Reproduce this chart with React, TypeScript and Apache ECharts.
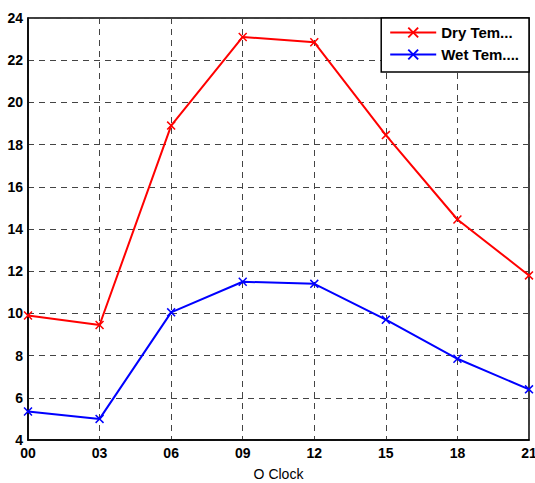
import React, { useEffect, useRef } from "react";
import * as echarts from "echarts";

const hours = ["00", "03", "06", "09", "12", "15", "18", "21"];
const dryTemp = [9.9, 9.45, 18.9, 23.1, 22.85, 18.45, 14.45, 11.8];
const wetTemp = [5.35, 5.0, 10.05, 11.5, 11.4, 9.7, 7.85, 6.4];
const seriesNames = ["Dry Tem...", "Wet Tem...."];
const xAxisName = "O Clock";

const crossSymbol =
  "path://M0,1.2L1.2,0L5,3.8L8.8,0L10,1.2L6.2,5L10,8.8L8.8,10L5,6.2L1.2,10L0,8.8L3.8,5Z";

export default function App() {
  const ref = useRef<HTMLDivElement>(null);
  useEffect(() => {
    if (!ref.current) return;
    const chart = echarts.init(ref.current, undefined, { renderer: "svg" });
    const font = "'Liberation Sans', Arial, Helvetica, sans-serif";
    chart.setOption({
      animation: false,
      backgroundColor: "#ffffff",
      textStyle: { fontFamily: font },
      grid: {
        left: 28,
        right: 6,
        top: 18,
        bottom: 43,
        show: true,
        borderColor: "#000",
        borderWidth: 1.5,
        backgroundColor: "transparent",
        containLabel: false,
        outerBoundsMode: "none",
      },
      legend: {
        right: 6,
        top: 18,
        orient: "vertical",
        backgroundColor: "#fff",
        borderColor: "#000",
        borderWidth: 1.5,
        borderRadius: 0,
        padding: [7, 10, 10, 8],
        itemGap: 7,
        itemWidth: 46,
        itemHeight: 14,
        textStyle: {
          fontFamily: font,
          fontWeight: "bold",
          fontSize: 15,
          color: "#000",
        },
        data: seriesNames,
      },
      xAxis: {
        type: "category",
        data: hours,
        boundaryGap: false,
        name: xAxisName,
        nameLocation: "middle",
        nameGap: 27,
        nameTextStyle: { fontFamily: font, fontSize: 14, color: "#000" },
        axisLine: { show: true, lineStyle: { color: "#000", width: 1.5 } },
        axisTick: { show: false },
        axisLabel: {
          color: "#000",
          fontWeight: "bold",
          fontSize: 14,
          fontFamily: font,
          margin: 6,
        },
        splitLine: {
          show: true,
          lineStyle: { color: "#444", type: [6, 5], width: 1 },
        },
      },
      yAxis: {
        type: "value",
        min: 4,
        max: 24,
        interval: 2,
        axisLine: { show: true, lineStyle: { color: "#000", width: 1.5 } },
        axisTick: { show: false },
        axisLabel: {
          color: "#000",
          fontWeight: "bold",
          fontSize: 14,
          fontFamily: font,
          margin: 5,
        },
        splitLine: {
          show: true,
          lineStyle: { color: "#444", type: [6, 5], width: 1 },
        },
      },
      series: [
        {
          name: seriesNames[0],
          type: "line",
          data: dryTemp,
          symbol: crossSymbol,
          symbolSize: 9,
          showAllSymbol: true,
          lineStyle: { color: "#ff0000", width: 2 },
          itemStyle: { color: "#ff0000" },
          z: 3,
        },
        {
          name: seriesNames[1],
          type: "line",
          data: wetTemp,
          symbol: crossSymbol,
          symbolSize: 9,
          showAllSymbol: true,
          lineStyle: { color: "#0000ff", width: 2 },
          itemStyle: { color: "#0000ff" },
          z: 3,
        },
      ],
    });
    return () => chart.dispose();
  }, []);
  return (
    <div
      ref={ref}
      style={{ position: "fixed", left: 0, top: 0, width: 535, height: 483 }}
    />
  );
}
